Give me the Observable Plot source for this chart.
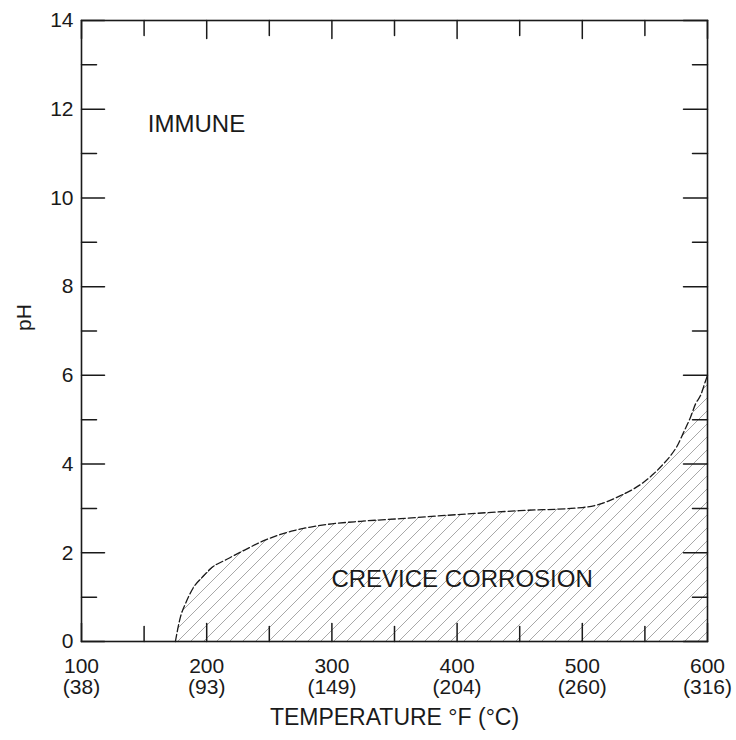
<!DOCTYPE html>
<html>
<head>
<meta charset="utf-8">
<script src="https://cdn.jsdelivr.net/npm/d3@7"></script>
<script src="https://cdn.jsdelivr.net/npm/@observablehq/plot@0.6"></script>
<style>
  html, body { margin: 0; padding: 0; background: #fff; }
</style>
</head>
<body>
<div id="chart"></div>
<script>
// Boundary between IMMUNE and CREVICE CORROSION regions
const tempF = [175, 179, 183, 189.5, 196.5, 203, 216.5, 229.5, 243, 256.5, 269.5, 283, 296.5, 323, 355, 400, 450, 500, 514.5, 530.5, 541, 549, 557, 565, 570.5, 576, 581, 586.5, 590.5, 594.5, 598.5, 600];
const pH    = [0, 0.55, 0.85, 1.22, 1.45, 1.64, 1.86, 2.05, 2.24, 2.39, 2.5, 2.58, 2.64, 2.71, 2.77, 2.86, 2.95, 3.02, 3.1, 3.29, 3.44, 3.59, 3.78, 4.01, 4.19, 4.42, 4.72, 5.06, 5.36, 5.55, 5.88, 6.0];

// Axes
const xMajor = [100, 200, 300, 400, 500, 600];
const xCelsius = ["38", "93", "149", "204", "260", "316"];
const xMinor = [150, 250, 350, 450, 550];
const yMajor = [0, 2, 4, 6, 8, 10, 12, 14];
const yMinor = [1, 3, 5, 7, 9, 11, 13];
const xTitle = "TEMPERATURE \u00B0F (\u00B0C)";
const yTitle = "pH";

// Region labels
const regionNames = ["IMMUNE", "CREVICE CORROSION"];
const regionTemp = [153, 404];
const regionPH = [11.65, 1.41];

const curve = tempF.map((t, i) => ({t, ph: pH[i]}));
const regions = regionNames.map((name, i) => ({name, t: regionTemp[i], ph: regionPH[i]}));

const tickShape = {draw(context, l) { context.moveTo(0, 0); context.lineTo(0, -l); }};
const ink = "#1a1a1a";

const plot = Plot.plot({
  width: 736,
  height: 740,
  marginLeft: 81,
  marginRight: 29,
  marginTop: 20,
  marginBottom: 99,
  style: {fontFamily: "'Liberation Sans', Arial, Helvetica, sans-serif", fontSize: "21px", color: ink, background: "#fff"},
  x: {domain: [100, 600], axis: null},
  y: {domain: [0, 14], axis: null},
  marks: [
    Plot.areaY(curve, {x: "t", y: "ph", fill: "url(#hatch)", curve: "monotone-x"}),
    // bottom ticks
    Plot.vector(xMajor, {x: d => d, frameAnchor: "bottom", length: 18, rotate: 0, anchor: "start", shape: tickShape, stroke: ink, strokeWidth: 1.5}),
    Plot.vector(xMinor, {x: d => d, frameAnchor: "bottom", length: 15, rotate: 0, anchor: "start", shape: tickShape, stroke: ink, strokeWidth: 1.5}),
    // top ticks
    Plot.vector(xMajor, {x: d => d, frameAnchor: "top", length: 18, rotate: 180, anchor: "start", shape: tickShape, stroke: ink, strokeWidth: 1.5}),
    Plot.vector(xMinor, {x: d => d, frameAnchor: "top", length: 15, rotate: 180, anchor: "start", shape: tickShape, stroke: ink, strokeWidth: 1.5}),
    // left ticks
    Plot.vector(yMajor, {y: d => d, frameAnchor: "left", length: 23, rotate: 90, anchor: "start", shape: tickShape, stroke: ink, strokeWidth: 1.5}),
    Plot.vector(yMinor, {y: d => d, frameAnchor: "left", length: 15, rotate: 90, anchor: "start", shape: tickShape, stroke: ink, strokeWidth: 1.5}),
    // right ticks
    Plot.vector(yMajor, {y: d => d, frameAnchor: "right", length: 24, rotate: -90, anchor: "start", shape: tickShape, stroke: ink, strokeWidth: 1.5}),
    Plot.vector(yMinor, {y: d => d, frameAnchor: "right", length: 15, rotate: -90, anchor: "start", shape: tickShape, stroke: ink, strokeWidth: 1.5}),
    Plot.frame({stroke: ink, strokeWidth: 1.6}),
    Plot.line(curve, {x: "t", y: "ph", stroke: ink, strokeWidth: 1.3, strokeDasharray: "7,3", curve: "monotone-x"}),
    // tick labels
    Plot.text(xMajor, {x: d => d, frameAnchor: "bottom", dy: 17, lineAnchor: "top", lineHeight: 1.0, text: (d, i) => `${d}\n(${xCelsius[i]})`, fill: ink, fontSize: 21}),
    Plot.text(yMajor, {y: d => d, frameAnchor: "left", dx: -8, textAnchor: "end", lineAnchor: "middle", text: d => String(d), fill: ink, fontSize: 21}),
    // axis titles
    Plot.text([xTitle], {frameAnchor: "bottom", dy: 76, lineAnchor: "middle", text: d => d, fill: ink, fontSize: 23}),
    Plot.text([yTitle], {frameAnchor: "left", dx: -57, rotate: -90, lineAnchor: "middle", text: d => d, fill: ink, fontSize: 21}),
    // region labels
    Plot.text(regions.slice(0, 1), {x: "t", y: "ph", text: "name", textAnchor: "start", lineAnchor: "middle", fill: ink, fontSize: 24}),
    Plot.text(regions.slice(1), {x: "t", y: "ph", text: "name", textAnchor: "middle", lineAnchor: "middle", fill: ink, fontSize: 24})
  ]
});

d3.select(plot).insert("defs", ":first-child").html(
  `<pattern id="hatch" patternUnits="userSpaceOnUse" width="13" height="13">
     <path d="M-1,1 L1,-1 M0,13 L13,0 M12,14 L14,12" stroke="#a8a8a8" stroke-width="1" fill="none"/>
   </pattern>`
);

document.getElementById("chart").appendChild(plot);
</script>
</body>
</html>
